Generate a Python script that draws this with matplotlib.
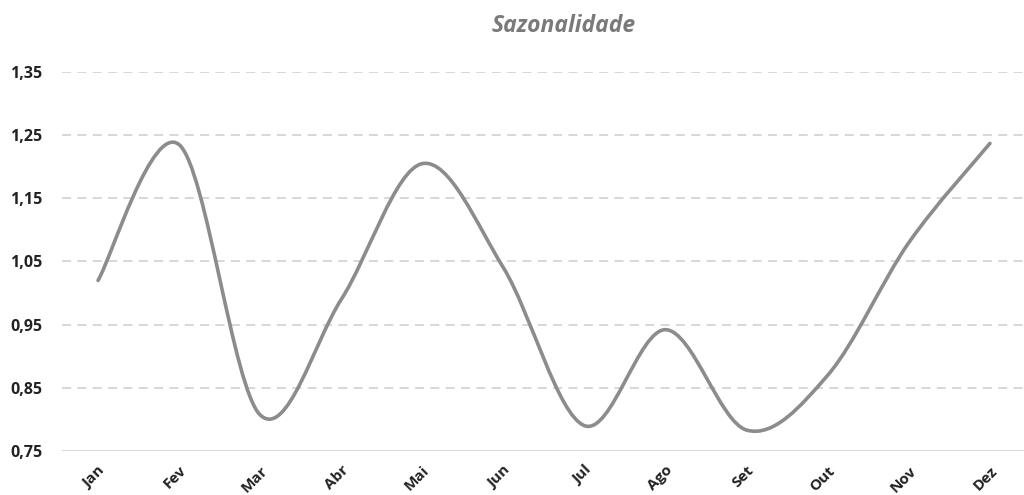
import numpy as np
import matplotlib
matplotlib.use("Agg")
import matplotlib.pyplot as plt
from matplotlib.path import Path
from matplotlib.patches import PathPatch
from matplotlib.ticker import FuncFormatter

# dados
meses = ["Jan", "Fev", "Mar", "Abr", "Mai", "Jun", "Jul", "Ago", "Set", "Out", "Nov", "Dez"]
indice = [1.02, 1.235, 0.807, 0.99, 1.205, 1.04, 0.79, 0.942, 0.783, 0.87, 1.08, 1.237]
yticks = [0.75, 0.85, 0.95, 1.05, 1.15, 1.25, 1.35]

plt.rcParams['font.family'] = ['Open Sans', 'DejaVu Sans']


def linha_suave(x, y):
    # curva tipo Excel (Catmull-Rom em bezier cubico)
    n = len(x)
    verts = [(x[0], y[0])]
    codes = [Path.MOVETO]
    for i in range(n - 1):
        x0, y0 = (x[i - 1], y[i - 1]) if i > 0 else (x[i], y[i])
        x3, y3 = (x[i + 2], y[i + 2]) if i + 2 < n else (x[i + 1], y[i + 1])
        c1 = (x[i] + (x[i + 1] - x0) / 6, y[i] + (y[i + 1] - y0) / 6)
        c2 = (x[i + 1] - (x3 - x[i]) / 6, y[i + 1] - (y3 - y[i]) / 6)
        verts += [c1, c2, (x[i + 1], y[i + 1])]
        codes += [Path.CURVE4] * 3
    return Path(verts, codes)


fig = plt.figure(figsize=(10.24, 4.95), dpi=100)
ax = fig.add_axes([0.0605, 0.089, 0.9395, 0.7655])

xs = np.arange(len(meses))
ax.add_patch(PathPatch(linha_suave(xs, indice), fill=False, edgecolor="#8c8c8c",
                       lw=2.6, capstyle="round", joinstyle="round", zorder=3))

ax.set_xlim(-0.445, 11.42)
ax.set_ylim(0.75, 1.35)
ax.set_yticks(yticks)
ax.yaxis.set_major_formatter(FuncFormatter(lambda v, p: ("%.2f" % v).replace(".", ",")))
ax.set_xticks(xs)
ax.set_xticklabels(meses, rotation=45, ha="right", rotation_mode="anchor")

for v in yticks[1:]:
    ax.axhline(v, color="#d4d4d4", lw=1.3, ls=(0, (5, 3.5)), zorder=1)
ax.axhline(0.75, color="#d4d4d4", lw=1.3, zorder=1)

for s in ax.spines.values():
    s.set_visible(False)
ax.tick_params(length=0)
ax.tick_params(axis="y", pad=14, labelsize=11.5, labelcolor="#222222")
ax.tick_params(axis="x", pad=9, labelsize=11, labelcolor="#222222")
for t in ax.get_yticklabels() + ax.get_xticklabels():
    t.set_fontweight("bold")

fig.text(0.55, 0.948, "Sazonalidade", ha="center", va="center", fontsize=16.5,
         fontstyle="italic", fontweight="bold", color="#7a7a7a")

fig.savefig("out.png", dpi=100)
